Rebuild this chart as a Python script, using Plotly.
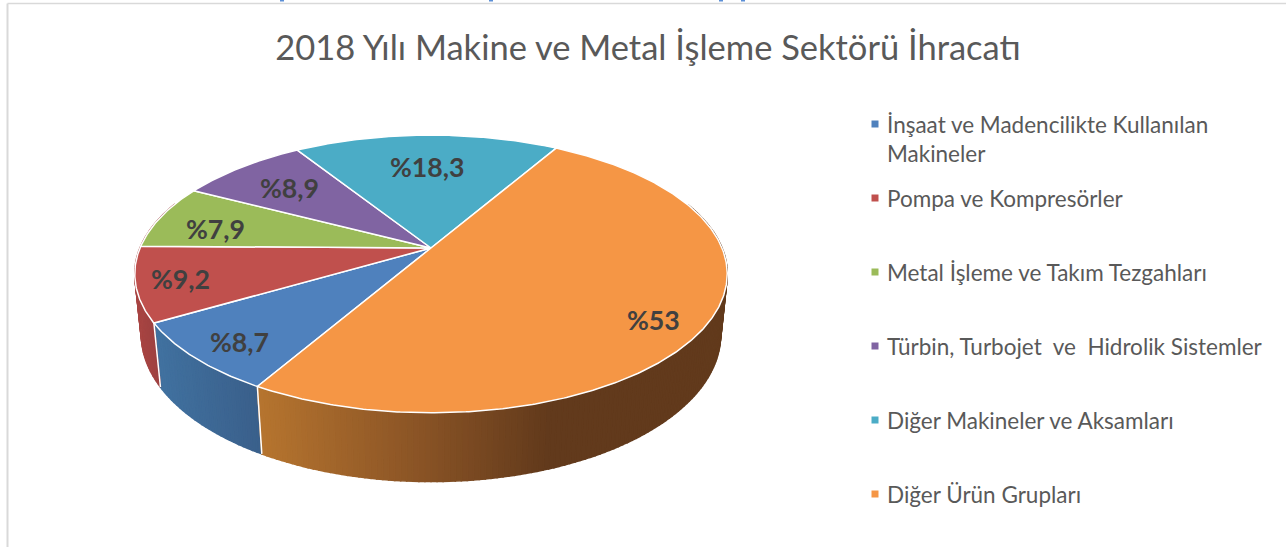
import numpy as np
import plotly.graph_objects as go

TITLE = "2018 Yılı Makine ve Metal İşleme Sektörü İhracatı"
CATEGORIES = ["İnşaat ve Madencilikte Kullanılan<br>Makineler", "Pompa ve Kompresörler",
              "Metal İşleme ve Takım Tezgahları", "Türbin, Turbojet\u00a0 ve\u00a0 Hidrolik Sistemler",
              "Diğer Makineler ve Aksamları", "Diğer Ürün Grupları"]
VALUES = [8.7, 9.2, 7.9, 8.9, 18.3, 53]
LABELS = ["%8,7", "%9,2", "%7,9", "%8,9", "%18,3", "%53"]
COLORS = ["#4f81bd", "#c0504d", "#9bbb59", "#8064a2", "#4bacc6", "#f59645"]

# label placement (radial fraction, angular nudge in degrees)
LABEL_R = [0.85, 0.855, 0.776, 0.723, 0.68, 0.848]
LABEL_NUDGE = [-1.5, 0, -3.4, 0, 0, 5]
LEGEND_Y = [124, 198, 272, 346, 420, 494]
START_ANGLE = 210
CLIPPED_TEXT_X = [282, 491, 721, 743]

# perspective camera for the tilted pie (pixels)
CX, CY, B, A, K, M, C = 431, 248, 291, 134, 0.187, 0.022, 61


def project(theta_deg, r=1.0, z=0.0):
    t = np.radians(theta_deg)
    u, v = r * np.sin(t), r * np.cos(t)
    w = 1 + K * v + M * z
    return CX + B * u / w, CY + (-A * v + C * z) / w


def hexrgb(h):
    return np.array([int(h[i:i + 2], 16) for i in (1, 3, 5)], float)


def wall_color(slice_i, x):
    # side wall shading varies left to right
    if slice_i == 5:
        xs, cs = [262, 420, 550], ["#b5742f", "#8a5426", "#623a1c"]
    elif slice_i == 0:
        xs, cs = [160, 262], ["#41719f", "#3a5f8a"]
    else:
        xs, cs = [135, 160], ["#a84543", "#9b4040"]
    stops = np.array([hexrgb(c) for c in cs])
    rgb = [np.interp(x, xs, stops[:, j]) for j in range(3)]
    return "rgb(%d,%d,%d)" % tuple(rgb)


total = sum(VALUES)
spans = [v / total * 360 for v in VALUES]
starts = START_ANGLE + np.concatenate([[0], np.cumsum(spans)[:-1]])

fig = go.Figure()
common = dict(mode="lines", hoverinfo="skip", showlegend=False)

# side walls: visible front arc of each slice, drawn as strips
for i, (s, sp) in enumerate(zip(starts, spans)):
    e = s + sp
    n = max(2, int(sp))
    grid = np.linspace(s, e, n + 1)
    for a0, a1 in zip(grid[:-1], grid[1:]):
        mid = ((a0 + a1) / 2) % 360
        if mid < 70 or mid > 290:
            continue
        x0, y0 = project(a0)
        x1, y1 = project(a1)
        x2, y2 = project(a1, z=1)
        x3, y3 = project(a0, z=1)
        col = wall_color(i, (x0 + x1) / 2)
        fig.add_trace(go.Scatter(x=[x0, x1, x2, x3, x0], y=[y0, y1, y2, y3, y0],
                                 fill="toself", fillcolor=col,
                                 line=dict(color=col, width=1.6), **common))

# separators on the side wall
for s in starts:
    if 70 < s % 360 < 262:
        x0, y0 = project(s)
        x1, y1 = project(s, z=1)
        fig.add_trace(go.Scatter(x=[x0, x1], y=[y0, y1], line=dict(color="white", width=1.5), **common))

# top faces
for i, (s, sp) in enumerate(zip(starts, spans)):
    th = np.linspace(s, s + sp, max(4, int(sp * 2)))
    x, y = project(th)
    xs = np.concatenate([[CX], x, [CX]])
    ys = np.concatenate([[CY], y, [CY]])
    fig.add_trace(go.Scatter(x=xs, y=ys, fill="toself", fillcolor=COLORS[i],
                             line=dict(color="white", width=1.5), **common))

# legend swatches
fig.add_trace(go.Scatter(x=[875] * 6, y=LEGEND_Y, mode="markers", hoverinfo="skip", showlegend=False,
                         marker=dict(symbol="square", size=7, color=COLORS)))

annotations = []
for i, (s, sp) in enumerate(zip(starts, spans)):
    lx, ly = project(s + sp / 2 + LABEL_NUDGE[i], r=LABEL_R[i])
    annotations.append(dict(x=float(lx), y=float(ly), text="<b>%s</b>" % LABELS[i], showarrow=False,
                            xref="x", yref="y", xanchor="center", yanchor="middle",
                            font=dict(family="Lato", size=26.7, color="#404040")))
for i, cat in enumerate(CATEGORIES):
    two = "<br>" in cat
    annotations.append(dict(x=885, y=LEGEND_Y[i] + (15 if two else 0), text=cat, showarrow=False,
                            xref="x", yref="y", xanchor="left", yanchor="middle", align="left",
                            font=dict(family="Lato", size=22.5, color="#595959")))

shapes = [
    dict(type="line", xref="x", yref="y", x0=7.5, x1=7.5, y0=3.5, y1=547, line=dict(color="#d9d9d9", width=2)),
    dict(type="line", xref="x", yref="y", x0=7.5, x1=1286, y0=3.5, y1=3.5, line=dict(color="#d9d9d9", width=1.5)),
]
for cx in CLIPPED_TEXT_X:
    shapes.append(dict(type="rect", xref="x", yref="y", x0=cx - 2, x1=cx + 2, y0=0, y1=1.5,
                       fillcolor="#5b8fd6", line=dict(width=0)))

fig.update_layout(
    width=1286, height=547, margin=dict(l=0, r=0, t=0, b=0),
    paper_bgcolor="white", plot_bgcolor="white",
    xaxis=dict(range=[0, 1286], visible=False, domain=[0, 1], fixedrange=True),
    yaxis=dict(range=[547, 0], visible=False, domain=[0, 1], fixedrange=True),
    title=dict(text=TITLE, x=648 / 1286, y=1 - 48 / 547, xanchor="center", yanchor="middle",
               font=dict(family="Lato", size=34.5, color="#595959")),
    annotations=annotations,
    shapes=shapes,
)
fig.write_html("out.html", config=dict(displayModeBar=False),
               post_script="document.body.style.margin='0';document.documentElement.style.overflow='hidden';")
